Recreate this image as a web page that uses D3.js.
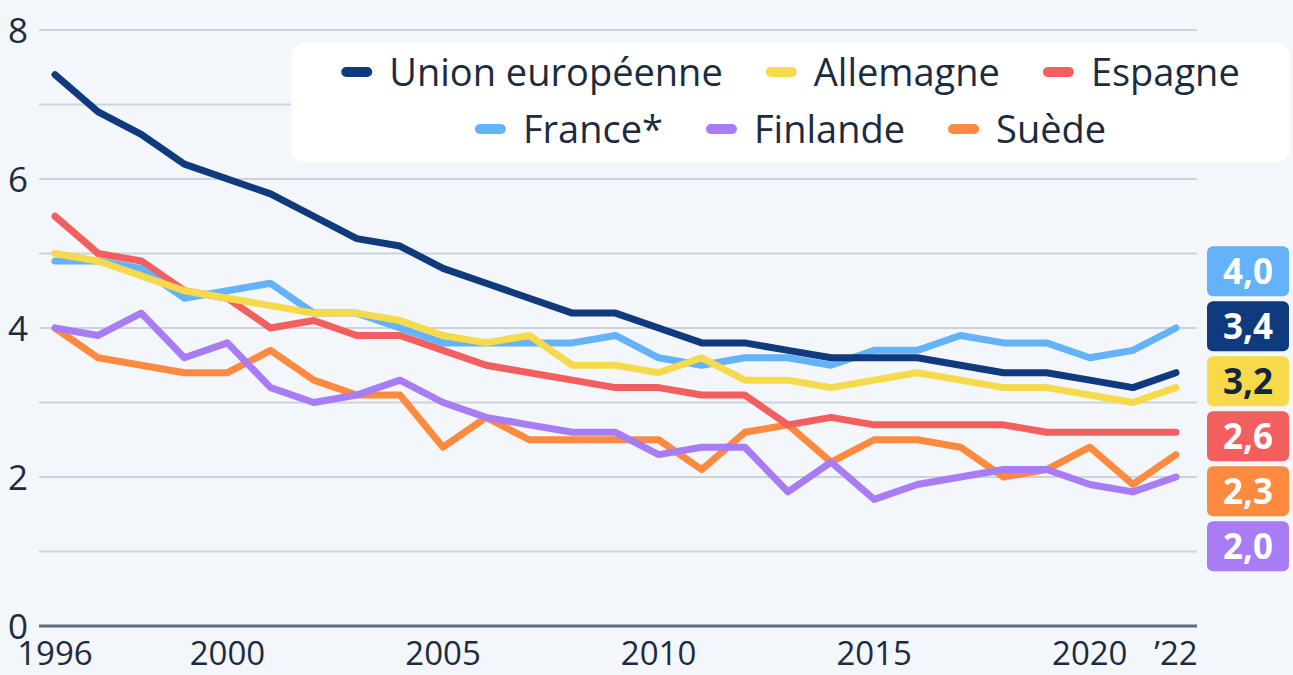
<!DOCTYPE html>
<html>
<head>
<meta charset="utf-8">
<script src="https://cdn.jsdelivr.net/npm/d3@7"></script>
<style>
  html, body { margin: 0; padding: 0; background: #f3f6fa; }
  svg { display: block; font-family: "Open Sans", sans-serif; }
</style>
</head>
<body>
<div id="chart"></div>
<script>
const W = 1293, H = 675;

const years = [1996, 1997, 1998, 1999, 2000, 2001, 2002, 2003, 2004, 2005, 2006, 2007, 2008, 2009,
    2010, 2011, 2012, 2013, 2014, 2015, 2016, 2017, 2018, 2019, 2020, 2021, 2022];

const euValues = [7.4, 6.9, 6.6, 6.2, 6.0, 5.8, 5.5, 5.2, 5.1, 4.8, 4.6, 4.4, 4.2, 4.2,
    4.0, 3.8, 3.8, 3.7, 3.6, 3.6, 3.6, 3.5, 3.4, 3.4, 3.3, 3.2, 3.4];
const germanyValues = [5.0, 4.9, 4.7, 4.5, 4.4, 4.3, 4.2, 4.2, 4.1, 3.9, 3.8, 3.9, 3.5, 3.5,
    3.4, 3.6, 3.3, 3.3, 3.2, 3.3, 3.4, 3.3, 3.2, 3.2, 3.1, 3.0, 3.2];
const spainValues = [5.5, 5.0, 4.9, 4.5, 4.4, 4.0, 4.1, 3.9, 3.9, 3.7, 3.5, 3.4, 3.3, 3.2,
    3.2, 3.1, 3.1, 2.7, 2.8, 2.7, 2.7, 2.7, 2.7, 2.6, 2.6, 2.6, 2.6];
const franceValues = [4.9, 4.9, 4.8, 4.4, 4.5, 4.6, 4.2, 4.2, 4.0, 3.8, 3.8, 3.8, 3.8, 3.9,
    3.6, 3.5, 3.6, 3.6, 3.5, 3.7, 3.7, 3.9, 3.8, 3.8, 3.6, 3.7, 4.0];
const finlandValues = [4.0, 3.9, 4.2, 3.6, 3.8, 3.2, 3.0, 3.1, 3.3, 3.0, 2.8, 2.7, 2.6, 2.6,
    2.3, 2.4, 2.4, 1.8, 2.2, 1.7, 1.9, 2.0, 2.1, 2.1, 1.9, 1.8, 2.0];
const swedenValues = [4.0, 3.6, 3.5, 3.4, 3.4, 3.7, 3.3, 3.1, 3.1, 2.4, 2.8, 2.5, 2.5, 2.5,
    2.5, 2.1, 2.6, 2.7, 2.2, 2.5, 2.5, 2.4, 2.0, 2.1, 2.4, 1.9, 2.3];

const yTicks = [0, 2, 4, 6, 8];
const gridValues = [1, 2, 3, 4, 5, 6, 7, 8];
const xTicks = [1996, 2000, 2005, 2010, 2015, 2020, 2022];
const xTickLabels = ["1996", "2000", "2005", "2010", "2015", "2020", "\u201922"];

// legend rows (draw order of lines differs, see below)
const legendRow1 = ["Union européenne", "Allemagne", "Espagne"];
const legendRow2 = ["France*", "Finlande", "Suède"];

const series = [
    { name: "Suède", values: swedenValues, color: "#fd8a3f", text: "#fff" },
    { name: "Finlande", values: finlandValues, color: "#a77cf5", text: "#fff" },
    { name: "Espagne", values: spainValues, color: "#f35f5f", text: "#fff" },
    { name: "France*", values: franceValues, color: "#64b2f8", text: "#fff" },
    { name: "Allemagne", values: germanyValues, color: "#f7d94c", text: "#14243c" },
    { name: "Union européenne", values: euValues, color: "#0f3a7d", text: "#fff" }
];
const colorOf = name => series.find(s => s.name === name).color;

const x = d3.scaleLinear().domain([1996, 2022]).range([55, 1176]);
const y = d3.scaleLinear().domain([0, 8]).range([626, 30]);

const svg = d3.select("#chart").append("svg")
    .attr("width", W)
    .attr("height", H);

svg.append("rect").attr("width", W).attr("height", H).attr("fill", "#f3f6fa");

// grid
svg.append("g")
    .selectAll("line")
    .data(gridValues)
    .join("line")
    .attr("x1", 39)
    .attr("x2", 1197)
    .attr("y1", d => y(d))
    .attr("y2", d => y(d))
    .attr("stroke", "#cdd3da")
    .attr("stroke-width", 2);

svg.append("line")
    .attr("x1", 39).attr("x2", 1197)
    .attr("y1", y(0)).attr("y2", y(0))
    .attr("stroke", "#5d6d80")
    .attr("stroke-width", 3);

// y labels
svg.append("g")
    .selectAll("text")
    .data(yTicks)
    .join("text")
    .attr("x", 8)
    .attr("y", d => y(d))
    .attr("dy", "0.36em")
    .attr("font-size", 35)
    .attr("fill", "#1c2b3f")
    .text(d => d);

// x labels
svg.append("g")
    .selectAll("text")
    .data(xTicks)
    .join("text")
    .attr("x", d => x(d))
    .attr("y", 665)
    .attr("text-anchor", "middle")
    .attr("font-size", 33)
    .attr("fill", "#1c2b3f")
    .text((d, i) => xTickLabels[i]);

// lines
const line = d3.line()
    .x((d, i) => x(years[i]))
    .y(d => y(d));

svg.append("g")
    .selectAll("path")
    .data(series)
    .join("path")
    .attr("d", d => line(d.values))
    .attr("fill", "none")
    .attr("stroke", d => d.color)
    .attr("stroke-width", 7)
    .attr("stroke-linejoin", "round")
    .attr("stroke-linecap", "round");

// legend
const legend = svg.append("g");
legend.append("rect")
    .attr("x", 291).attr("y", 43)
    .attr("width", 999).attr("height", 119)
    .attr("rx", 14)
    .attr("fill", "#ffffff");

function legendRow(names, cy) {
    const row = legend.append("g");
    let cx = 0;
    names.forEach((name, i) => {
        const item = row.append("g").attr("transform", `translate(${cx},0)`);
        item.append("line")
            .attr("x1", 5).attr("x2", 26)
            .attr("y1", cy).attr("y2", cy)
            .attr("stroke", colorOf(name))
            .attr("stroke-width", 10)
            .attr("stroke-linecap", "round");
        const t = item.append("text")
            .attr("x", 48)
            .attr("y", cy)
            .attr("dy", "0.36em")
            .attr("font-size", 38)
            .attr("fill", "#1c2b3f")
            .text(name);
        cx += 48 + t.node().getComputedTextLength() + 43;
    });
    const total = cx - 43;
    row.attr("transform", `translate(${790.5 - total / 2},0)`);
}
legendRow(legendRow1, 72);
legendRow(legendRow2, 129);

// end labels, stacked around the mean of the last points
const last = series.map(s => ({ s, v: s.values[s.values.length - 1] }))
    .sort((a, b) => b.v - a.v);
const step = 55;
const meanY = d3.mean(last, d => y(d.v));
last.forEach((d, i) => { d.cy = meanY + (i - (last.length - 1) / 2) * step; });

const tags = svg.append("g")
    .selectAll("g")
    .data(last)
    .join("g")
    .attr("transform", d => `translate(1207,${d.cy - 25})`);

tags.append("rect")
    .attr("width", 82)
    .attr("height", 50)
    .attr("rx", 6)
    .attr("fill", d => d.s.color);

tags.append("text")
    .attr("x", 41)
    .attr("y", 25)
    .attr("dy", "0.36em")
    .attr("text-anchor", "middle")
    .attr("font-size", 35)
    .attr("font-weight", 700)
    .attr("fill", d => d.s.text)
    .text(d => d.v.toFixed(1).replace(".", ","));
</script>
</body>
</html>
